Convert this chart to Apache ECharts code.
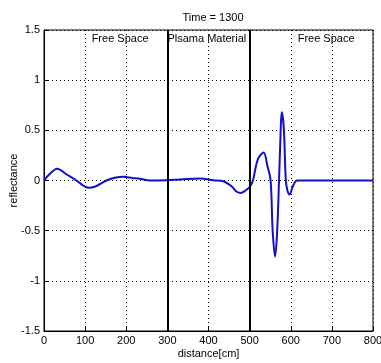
<!DOCTYPE html>
<html><head><meta charset="utf-8">
<script src="https://cdn.jsdelivr.net/npm/echarts@6/dist/echarts.min.js"></script>
<style>html,body{margin:0;padding:0;background:#fff}#c{width:381px;height:363px}</style>
</head><body><div id="c"></div>
<script>
var distance = [0, 15, 32, 55, 79, 95, 108, 125, 152, 175, 193, 215, 233, 258, 298, 331, 380, 412, 436, 456, 468, 478, 490, 501, 508, 520, 534, 543, 551, 556, 562, 567, 571.5, 575, 578, 583, 588, 592, 597, 605, 615, 630, 800];
var reflectance = [0, 0.07, 0.117, 0.06, 0, -0.05, -0.073, -0.06, 0, 0.03, 0.037, 0.025, 0.017, 0, 0.003, 0.01, 0.02, 0.003, -0.007, -0.057, -0.11, -0.125, -0.1, -0.06, 0, 0.21, 0.28, 0.15, 0, -0.5, -0.76, -0.5, 0, 0.43, 0.68, 0.53, 0, -0.1, -0.14, -0.06, 0, 0, 0];
var xTicks = {min: 0, max: 800, interval: 100};
var yTicks = {min: -1.5, max: 1.5, interval: 0.5};
var regionBounds = [300, 500];
var regionLabels = ['Free Space', 'Plsama Material', 'Free Space'];
var regionLabelX = [185, 396, 686];
var titleText = 'Time = 1300';

var font = 'Liberation Sans';
var chart = echarts.init(document.getElementById('c'));
var dotted = {show: true, lineStyle: {color: '#000', type: [1, 3], width: 1}};
chart.setOption({
  animation: false,
  title: {text: titleText, left: 208, top: 7, textAlign: 'center',
    textStyle: {fontFamily: font, fontSize: 11, fontWeight: 'normal', color: '#000'}},
  grid: {left: 44, right: 8, top: 30, bottom: 32, show: true, borderColor: '#000', borderWidth: 1,
    containLabel: false, outerBoundsMode: 'none'},
  xAxis: {type: 'value', min: xTicks.min, max: xTicks.max, interval: xTicks.interval,
    name: 'distance[cm]', nameLocation: 'middle', nameGap: 17, nameMoveOverlap: false,
    nameTextStyle: {fontFamily: font, fontSize: 11, color: '#000'},
    axisLine: {show: true, onZero: false, lineStyle: {color: '#000'}},
    axisTick: {show: true, inside: true, length: 4, lineStyle: {color: '#000'}},
    axisLabel: {fontFamily: font, fontSize: 11, color: '#000', margin: 4},
    splitLine: dotted},
  yAxis: {type: 'value', min: yTicks.min, max: yTicks.max, interval: yTicks.interval,
    name: 'reflectance', nameLocation: 'middle', nameGap: 25, nameRotate: 90, nameMoveOverlap: false,
    nameTextStyle: {fontFamily: font, fontSize: 11, color: '#000'},
    axisLine: {show: true, onZero: false, lineStyle: {color: '#000'}},
    axisTick: {show: true, inside: true, length: 4, lineStyle: {color: '#000'}},
    axisLabel: {fontFamily: font, fontSize: 11, color: '#000', margin: 4},
    splitLine: dotted},
  series: [{
    type: 'line', data: distance.map(function (d, i) { return [d, reflectance[i]]; }),
    smooth: 0.35, showSymbol: false, symbol: 'none',
    lineStyle: {color: '#1010c8', width: 2},
    markLine: {silent: true, symbol: 'none', label: {show: false},
      lineStyle: {color: '#000', type: 'solid', width: 2},
      data: regionBounds.map(function (b) { return {xAxis: b}; })},
    markPoint: {silent: true, symbol: 'circle', symbolSize: 0,
      label: {show: true, position: 'inside', fontFamily: font, fontSize: 11, color: '#000',
        formatter: function (p) { return p.name; }},
      data: regionLabels.map(function (t, i) { return {name: t, coord: [regionLabelX[i], 1.41]}; })}
  }]
});
</script></body></html>
